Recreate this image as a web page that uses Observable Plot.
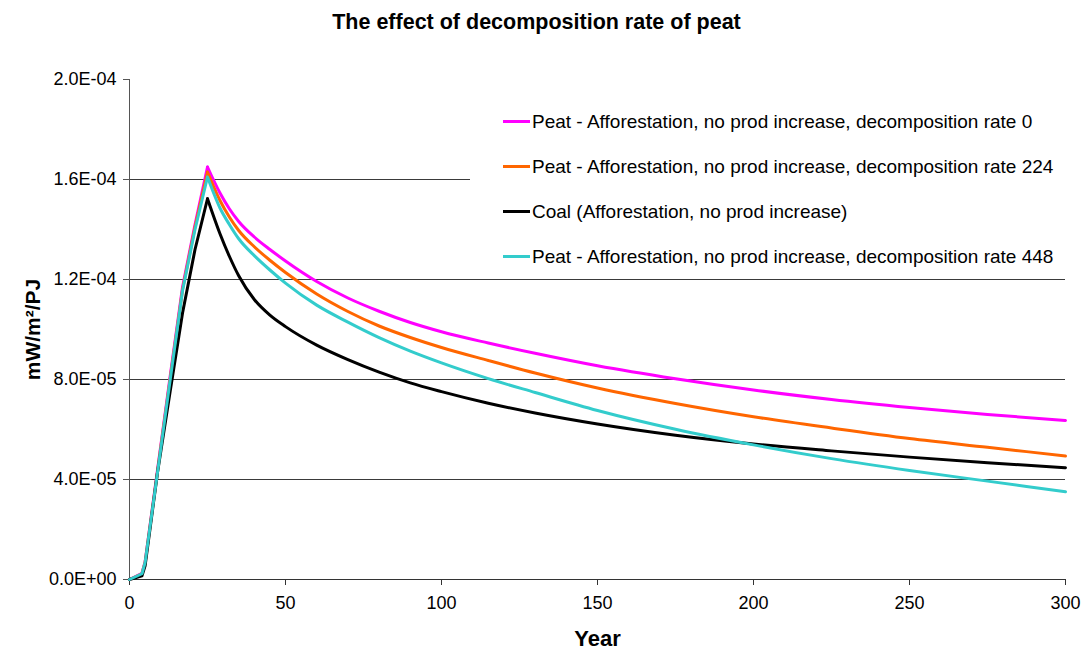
<!DOCTYPE html>
<html>
<head>
<meta charset="utf-8">
<script src="https://cdn.jsdelivr.net/npm/d3@7"></script>
<script src="https://cdn.jsdelivr.net/npm/@observablehq/plot@0.6"></script>
<style>
  body { margin: 0; background: #fff; font-family: "Liberation Sans", Arial, sans-serif; }
  #wrap { position: relative; width: 1085px; height: 653px; }
  #title { width: 1085px; height: 44px; box-sizing: border-box; padding-right: 12px;
           text-align: center; font-weight: bold; font-size: 21.5px; line-height: 44px; color: #000; }
  #legend { position: absolute; left: 470px; top: 95px; width: 595px; height: 178px; background: #fff; }
  .item { position: absolute; left: 33px; height: 24px; line-height: 24px; font-size: 19px; white-space: nowrap; color: #000; }
  .swatch { display: inline-block; width: 27px; height: 3px; vertical-align: middle; margin-right: 2px; position: relative; top: -1px; }
  svg { display: block; }
</style>
</head>
<body>
<div id="wrap">
  <div id="title">The effect of decomposition rate of peat</div>
  <div id="chart"></div>
  <div id="legend"></div>
</div>
<script>
// Radiative forcing per PJ over 300 years, afforestation without productivity increase
const years = [0, 4, 5, 9, 13, 17, 21, 25, 29, 32, 35, 40, 45, 50, 60, 70, 80, 90, 100, 115, 130, 150, 175, 200, 225, 250, 275, 300];

const peatRate0 = [0, 2.5e-6, 7e-6, 4.4e-5, 8.1e-5, 1.17e-4, 1.42e-4, 1.65e-4, 1.546e-4, 1.483e-4, 1.432e-4, 1.37e-4, 1.32e-4, 1.274e-4,
  1.192e-4, 1.126e-4, 1.073e-4, 1.028e-4, 9.91e-5, 9.46e-5, 9.05e-5, 8.55e-5, 8.03e-5, 7.58e-5, 7.2e-5, 6.88e-5, 6.6e-5, 6.36e-5];

const peatRate224 = [0, 2.3e-6, 6.8e-6, 4.35e-5, 8.0e-5, 1.16e-4, 1.41e-4, 1.63e-4, 1.516e-4, 1.45e-4, 1.396e-4, 1.331e-4, 1.277e-4, 1.228e-4,
  1.142e-4, 1.072e-4, 1.014e-4, 9.68e-5, 9.28e-5, 8.76e-5, 8.26e-5, 7.66e-5, 7.04e-5, 6.51e-5, 6.06e-5, 5.64e-5, 5.29e-5, 4.94e-5];

const coal = [0, 1.5e-6, 5.5e-6, 4.3e-5, 7.5e-5, 1.066e-4, 1.32e-4, 1.523e-4, 1.383e-4, 1.293e-4, 1.215e-4, 1.12e-4, 1.0575e-4, 1.0115e-4,
  9.375e-5, 8.795e-5, 8.295e-5, 7.865e-5, 7.515e-5, 7.05e-5, 6.66e-5, 6.22e-5, 5.77e-5, 5.42e-5, 5.145e-5, 4.895e-5, 4.67e-5, 4.47e-5];

const peatRate448 = [0, 2.3e-6, 6.8e-6, 4.3e-5, 7.95e-5, 1.155e-4, 1.4e-4, 1.61e-4, 1.486e-4, 1.42e-4, 1.363e-4, 1.2955e-4, 1.238e-4, 1.1855e-4,
  1.0975e-4, 1.0295e-4, 9.675e-5, 9.135e-5, 8.665e-5, 8.035e-5, 7.48e-5, 6.76e-5, 6.01e-5, 5.385e-5, 4.835e-5, 4.36e-5, 3.935e-5, 3.51e-5];

const seriesNames = [
  "Peat - Afforestation, no prod increase, decomposition rate 0",
  "Peat - Afforestation, no prod increase, decomposition rate 224",
  "Coal (Afforestation, no prod increase)",
  "Peat - Afforestation, no prod increase, decomposition rate 448"
];
const seriesColors = ["#ff00ff", "#ff6600", "#000000", "#33cccc"];
const seriesValues = [peatRate0, peatRate224, coal, peatRate448];

const xTicks = [0, 50, 100, 150, 200, 250, 300];
const yTicks = [0, 4e-5, 8e-5, 1.2e-4, 1.6e-4, 2e-4];
const gridTicks = [4e-5, 8e-5, 1.2e-4, 1.6e-4];
const peakYear = 25;

// Long-format rows for Plot
const rows = seriesNames.flatMap((name, s) =>
  years.map((year, i) => ({ year, value: seriesValues[s][i], series: name })));

// Spreadsheet-style scientific notation: 1.6E-04, 0.0E+00
function sci(d) {
  const [m, e] = d.toExponential(1).split("e");
  const n = +e;
  return m + "E" + (n < 0 ? "-" : "+") + String(Math.abs(n)).padStart(2, "0");
}

// Straight build-up to the peak, smooth decay after it
const rise = rows.filter(d => d.year <= peakYear);
const decay = rows.filter(d => d.year >= peakYear);

const chart = Plot.plot({
  width: 1085,
  height: 609,
  marginLeft: 129,
  marginRight: 20,
  marginTop: 35,
  marginBottom: 74,
  style: { fontFamily: "'Liberation Sans', Arial, sans-serif", fontSize: "18px", color: "#000", background: "#fff" },
  x: { domain: [0, 300] },
  y: { domain: [0, 2e-4] },
  color: { domain: seriesNames, range: seriesColors },
  marks: [
    Plot.ruleY(gridTicks, { stroke: "#3a3a3a", strokeWidth: 1 }),
    Plot.axisY({ ticks: yTicks, tickFormat: sci, tickSize: 6, tickPadding: 7, label: null, stroke: "#555" }),
    Plot.axisX({ ticks: xTicks, tickFormat: d => String(d), tickSize: 6, tickPadding: 11, label: null, stroke: "#333" }),
    Plot.ruleX([0], { stroke: "#555" }),
    Plot.ruleY([0], { stroke: "#333" }),
    Plot.line(rise, { x: "year", y: "value", stroke: "series", strokeWidth: 3, strokeLinejoin: "round" }),
    Plot.line(decay, { x: "year", y: "value", stroke: "series", strokeWidth: 3, strokeLinejoin: "round", curve: "monotone-x" }),
    Plot.text(["Year"], { text: d => d, frameAnchor: "bottom", dy: 66, fontWeight: "bold", fontSize: 22 }),
    Plot.text(["mW/m²/PJ"], { text: d => d, frameAnchor: "left", textAnchor: "middle", rotate: -90, dx: -96, fontWeight: "bold", fontSize: 21 })
  ]
});
document.getElementById("chart").appendChild(chart);

// Legend box drawn over the upper right of the plot area
const legend = document.getElementById("legend");
seriesNames.forEach((name, i) => {
  const item = document.createElement("div");
  item.className = "item";
  item.style.top = (15 + i * 45) + "px";
  const sw = document.createElement("span");
  sw.className = "swatch";
  sw.style.background = seriesColors[i];
  item.appendChild(sw);
  item.appendChild(document.createTextNode(name));
  legend.appendChild(item);
});
</script>
</body>
</html>
